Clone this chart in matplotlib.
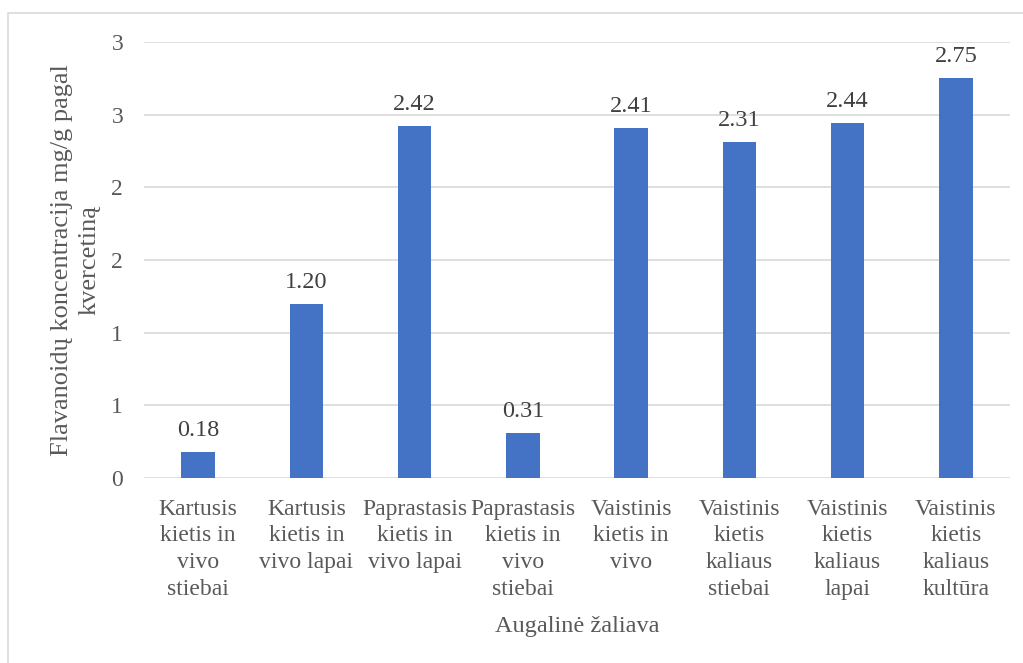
import numpy as np
import matplotlib.pyplot as plt
from matplotlib.lines import Line2D

# Daten
kategorien = ["Kartusis\nkietis in\nvivo\nstiebai",
              "Kartusis\nkietis in\nvivo lapai",
              "Paprastasis\nkietis in\nvivo lapai",
              "Paprastasis\nkietis in\nvivo\nstiebai",
              "Vaistinis\nkietis in\nvivo",
              "Vaistinis\nkietis\nkaliaus\nstiebai",
              "Vaistinis\nkietis\nkaliaus\nlapai",
              "Vaistinis\nkietis\nkaliaus\nkultūra"]
werte = [0.18, 1.20, 2.42, 0.31, 2.41, 2.31, 2.44, 2.75]
y_ticks = [0, 0.5, 1, 1.5, 2, 2.5, 3]
y_labels = ["0", "1", "1", "2", "2", "3", "3"]

grau = "#595959"
plt.rcParams['font.family'] = ['Liberation Serif', 'DejaVu Serif']

fig = plt.figure(figsize=(10.23, 6.63), dpi=100)
ax = fig.add_axes([0.1408, 0.279, 0.8465, 0.6576])

x = np.arange(len(werte))
balken = ax.bar(x, werte, width=0.31, color="#4472C4", zorder=3)

for xi, w in zip(x, werte):
    ax.annotate(f"{w:.2f}", (xi, w), xytext=(0, 8), textcoords="offset points",
                ha="center", va="bottom", fontsize=17.5, color="#404040")

ax.set_xlim(-0.5, len(werte) - 0.5)
ax.set_ylim(0, 3)
ax.set_yticks(y_ticks)
ax.set_yticklabels(y_labels, fontsize=17, color=grau)
ax.set_xticks(x)
ax.set_xticklabels(kategorien, fontsize=17, color=grau, linespacing=1.35)
ax.tick_params(axis="both", length=0)
ax.tick_params(axis="y", pad=15)
ax.tick_params(axis="x", pad=15)
ax.grid(axis="y", color="#d9d9d9", linewidth=1.2, zorder=0)
for s in ax.spines.values():
    s.set_visible(False)

ax.set_xlabel("Augalinė žaliava", fontsize=17.5, color=grau, labelpad=12)
fig.text(0.074, 0.607, "Flavanoidų koncentracija mg/g pagal\nkvercetiną",
         rotation=90, ha="center", va="center", fontsize=19, color=grau,
         linespacing=1.3, multialignment="center")

# Rahmen (nur oben und links sichtbar)
fig.lines.append(Line2D([8 / 1023, 8 / 1023, 1.0], [0.0, 1 - 13 / 663, 1 - 13 / 663],
                        transform=fig.transFigure, color="#d9d9d9", linewidth=1.2))

plt.savefig("out.png", dpi=100)
